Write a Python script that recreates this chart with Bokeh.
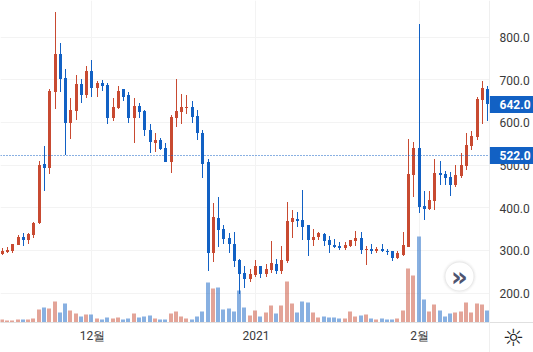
import math
from bokeh.plotting import figure
from bokeh.layouts import row
from bokeh.core.properties import value
from bokeh.models import (Range1d, LinearAxis, FixedTicker, Span, Label, BoxAnnotation, ColumnDataSource, Grid)
from bokeh.embed import file_html
from bokeh.resources import INLINE

# --- data -----------------------------------------------------------------
directions = ("RRRRBRRRBR" "RBBRRBRBRB" "BRRBBRBBBR" "BBRRRRBBBB" "RBBBBBBRRB"
              "RRBRRRBBBR" "RBBBBRRRBR" "BRBBBRRRRB" "BRRBBBRRRR" "RRB")
highs = [305,307,316,335,340,340,366,510,545,679,
         859,787,724,658,712,702,731,745,698,700,
         693,656,684,677,670,656,646,630,595,576,
         564,552,618,702,667,663,649,630,583,513,
         410,424,359,340,342,279,263,256,277,263,
         267,321,279,309,413,394,391,441,359,349,
         342,340,333,326,319,319,325,345,342,309,
         316,307,314,302,298,298,342,562,555,831,
         440,440,515,510,487,484,501,527,576,580,
         660,698,686]
body_tops = [298,300,314,331,331,338,363,501,503,674,
             759,759,705,630,691,691,721,721,693,693,
             688,637,674,677,663,639,639,627,583,559,
             559,541,613,627,637,637,637,616,576,506,
             377,375,349,328,316,277,246,244,263,263,
             256,270,267,277,368,375,373,370,359,331,
             340,338,324,312,309,312,324,328,328,302,
             302,302,302,298,298,293,312,480,541,541,
             405,419,482,482,480,473,477,501,548,569,
             655,681,679]
body_bottoms = [291,295,298,312,324,324,335,363,494,494,
                672,702,599,599,627,665,665,681,681,686,
                611,611,634,660,611,611,625,581,555,552,
                538,508,508,611,625,634,613,574,503,293,
                293,347,326,314,274,244,232,232,242,244,
                244,253,251,251,274,366,368,354,324,324,
                331,321,312,307,305,305,309,321,300,300,
                298,298,298,295,281,281,288,307,477,402,
                398,398,416,477,470,454,454,475,498,545,
                566,653,642]
lows = [288,293,293,312,309,314,328,361,438,478,
        632,670,524,562,606,646,658,660,660,674,
        597,602,632,649,599,552,609,567,529,531,
        534,506,482,588,597,620,599,559,470,251,
        272,307,314,293,260,197,211,225,237,234,
        237,246,244,244,270,328,354,324,286,309,
        324,309,293,305,300,300,308,309,291,265,
        291,293,295,288,274,279,286,307,426,388,
        372,395,395,454,454,428,449,470,489,536,
        559,595,604]
volumes = [9,6,6,9,9,9,12,39,45,42,
           63,30,57,36,27,18,24,24,12,9,
           15,12,15,9,12,27,15,18,21,12,
           9,9,27,33,18,12,9,18,33,120,
           102,105,39,42,33,96,45,21,36,18,
           30,51,27,51,123,57,30,63,60,30,
           15,18,15,15,12,12,33,18,21,24,
           12,9,12,9,9,12,36,162,141,258,
           69,33,54,36,18,27,30,33,60,30,
           57,54,36]
price_ticks = [200, 300, 400, 500, 600, 700, 800]
price_labels = ["200.0", "300.0", "400.0", "500.0", "600.0", "700.0", "800.0"]
time_ticks = {17: "12월", 48: "2021", 79: "2월"}
tag_prices = [642.0, 522.0]
tag_labels = ["642.0", "522.0"]
ref_price = 522.0

# --- styles ----------------------------------------------------------------
UP, DOWN = "#c84a31", "#1261c4"
GRID, BORDER, TEXT = "#f3f3f3", "#e0e0e0", "#3a3a3a"
FONT = "Roboto"
W, H, FW, FH = 533, 352, 489, 322
SW = W - FW
STEP, X0 = 5.275, 2.3              # px per candle, px of index 0
UNIT = 600 / 256                   # price per px
Y_TOP = 800 + 37 * UNIT

def snap_x(i):
    return (math.floor(X0 + STEP * i) - X0) / STEP

def y_px(v):
    return (Y_TOP - v) / UNIT

def snap_edge(v):
    return Y_TOP - (round(y_px(v)) - 0.5) * UNIT

def snap_row(v):
    return Y_TOP - math.floor(y_px(v) + 1e-6) * UNIT

n = len(highs)
xs = [snap_x(i) for i in range(n)]
is_up = [d == "R" for d in directions]
colors = [UP if u else DOWN for u in is_up]
opens = [b if u else t for u, t, b in zip(is_up, body_tops, body_bottoms)]
closes = [t if u else b for u, t, b in zip(is_up, body_tops, body_bottoms)]

src = ColumnDataSource(dict(
    x=xs, color=colors,
    high=[snap_edge(v) for v in highs], low=[snap_edge(v) for v in lows],
    top=[snap_edge(max(o, c)) for o, c in zip(opens, closes)],
    bottom=[snap_edge(min(o, c)) for o, c in zip(opens, closes)],
    vol=volumes,
    vleft=[x - 2.5 / STEP for x in xs], vright=[x + 1.5 / STEP for x in xs],
))

p = figure(width=FW, height=H, output_backend="svg", toolbar_location=None,
           x_range=Range1d(-X0 / STEP, (FW - X0) / STEP),
           y_range=Range1d(Y_TOP - FH * UNIT, Y_TOP),
           x_axis_location=None, y_axis_location=None,
           min_border_left=0, min_border_top=0, min_border_right=0, min_border_bottom=H - FH,
           outline_line_color=None, background_fill_color="white", border_fill_color="white")
p.frame_align = False
p.grid.visible = False
p.extra_y_ranges = {"vol": Range1d(0, FH * 3)}

xaxis = LinearAxis(ticker=FixedTicker(ticks=list(time_ticks)), major_label_overrides=time_ticks,
                   major_tick_line_color=None, minor_tick_line_color=None, major_tick_out=0,
                   axis_line_color=BORDER, major_label_text_color=TEXT,
                   major_label_text_font=FONT, major_label_text_font_size="12px",
                   major_label_standoff=6)
p.add_layout(xaxis, "below")
p.add_layout(Grid(dimension=0, ticker=FixedTicker(ticks=[snap_x(i) for i in time_ticks]), grid_line_color=GRID))
p.add_layout(Grid(dimension=1, ticker=FixedTicker(ticks=[snap_row(v) for v in price_ticks]), grid_line_color=GRID))

p.quad(left="vleft", right="vright", bottom=0, top="vol", y_range_name="vol", source=src,
       fill_color="color", fill_alpha=0.5, line_color=None)
p.add_layout(Span(location=snap_row(ref_price), dimension="width", line_color=DOWN, line_width=1, line_dash="1 2"))
p.segment(x0="x", x1="x", y0="low", y1="high", source=src, line_color="color", line_width=1)
p.vbar(x="x", width=3 / STEP, bottom="bottom", top="top", source=src, fill_color="color", line_color=None)

# scroll button (screen y counted upward from the frame's bottom)
for r, a in ((17, .025), (16, .04), (15, .06)):
    p.add_layout(BoxAnnotation(left=459 - r, right=459 + r, top=FH - 276 + r, bottom=FH - 276 - r, left_units="screen",
                               right_units="screen", top_units="screen", bottom_units="screen",
                               fill_color="#404040", fill_alpha=a, line_color=None, border_radius=r))
p.add_layout(BoxAnnotation(left=445, right=473, top=FH - 262, bottom=FH - 290, left_units="screen", right_units="screen",
                           top_units="screen", bottom_units="screen", fill_color="white", fill_alpha=1,
                           line_color=None, border_radius=14))
p.add_layout(Label(x=459, y=FH - 276, x_units="screen", y_units="screen", text="»", text_color="#4e5470",
                   text_font="DejaVu Sans", text_font_size="26px", text_font_style="bold",
                   text_align="center", text_baseline="middle"))

# --- right-hand price scale ----------------------------------------------
s = figure(width=SW, height=H, output_backend="svg", toolbar_location=None,
           x_range=Range1d(0, SW), y_range=Range1d(Y_TOP - H * UNIT, Y_TOP),
           x_axis_location=None, y_axis_location=None,
           min_border_left=0, min_border_top=0, min_border_right=0, min_border_bottom=0,
           outline_line_color=None, background_fill_color="white", border_fill_color="white")
s.frame_align = False
s.grid.visible = False
s.add_layout(Span(location=0, dimension="height", line_color=BORDER, line_width=1))
s.add_layout(Span(location=Y_TOP - FH * UNIT, dimension="width", line_color=BORDER, line_width=1))
s.text(x=[10] * len(price_ticks), y=price_ticks, text=price_labels, text_color=TEXT,
       text_font=value(FONT), text_font_size="12px", text_align="left", text_baseline="middle")
tag_y = [snap_row(v) for v in tag_prices]
s.quad(left=0, right=SW, top=[y + 8.5 * UNIT for y in tag_y], bottom=[y - 8.5 * UNIT for y in tag_y],
       fill_color=DOWN, line_color=None)
s.text(x=[10] * 2, y=tag_y, text=tag_labels, text_color="white", text_font=value(FONT),
       text_font_size="12px", text_font_style="bold", text_align="left", text_baseline="middle")
s.text(x=[24], y=[Y_TOP - 337 * UNIT], text=["☼"], text_color="#222222", text_font=value("DejaVu Sans"),
       text_font_size="24px", text_align="center", text_baseline="middle")

open("out.html", "w").write(file_html(row(p, s, spacing=0), INLINE))
